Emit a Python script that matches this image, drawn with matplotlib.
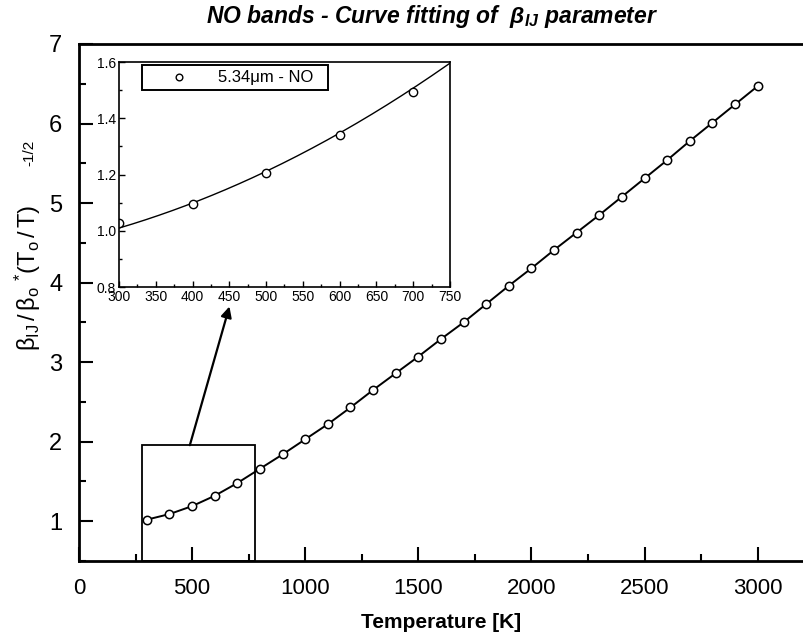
import numpy as np
import matplotlib
matplotlib.use("Agg")
import matplotlib.pyplot as plt
from matplotlib.patches import Rectangle
from matplotlib.ticker import MultipleLocator, FormatStrFormatter

# ---------------------------
# data
# ---------------------------
temps = [300, 400, 500, 600, 700, 800, 900, 1000, 1100, 1200, 1300, 1400,
         1500, 1600, 1700, 1800, 1900, 2000, 2100, 2200, 2300, 2400, 2500,
         2600, 2700, 2800, 2900, 3000]
beta_ratio = [1.02, 1.09, 1.19, 1.32, 1.48, 1.66, 1.84, 2.03, 2.22, 2.43,
              2.65, 2.86, 3.07, 3.29, 3.50, 3.73, 3.96, 4.18, 4.41, 4.63,
              4.85, 5.08, 5.31, 5.54, 5.78, 6.01, 6.24, 6.47]

# inset: measured points and the fitted curve (read at a few temperatures)
inset_temps = [300, 400, 500, 600, 700]
inset_beta = [1.029, 1.094, 1.205, 1.339, 1.495]
fit_temps = [300, 400, 500, 600, 700, 750]
fit_beta = [1.011, 1.094, 1.215, 1.35, 1.50, 1.60]

legend_label = "5.34\u03bcm - NO"

# zoom box + arrow (main axes data coords)
box_x0, box_x1, box_top = 278, 780, 1.956
arrow_tail = (490, 1.956)
arrow_head = (665, 3.70)

plt.rcParams['font.family'] = ['Liberation Sans', 'DejaVu Sans']
plt.rcParams['mathtext.fontset'] = 'custom'
plt.rcParams['mathtext.rm'] = 'Liberation Sans'
plt.rcParams['mathtext.it'] = 'Liberation Sans:italic'
plt.rcParams['mathtext.bf'] = 'Liberation Sans:bold:italic'

W, H = 804, 641
fig = plt.figure(figsize=(W / 100, H / 100), dpi=100)

# ---------------------------
# main axes
# ---------------------------
ax = fig.add_axes([79 / W, 1 - 561 / H, (W - 79) / W, (561 - 44) / H])
ax.plot(temps, beta_ratio, '-', color='black', lw=1.4,
        marker='o', ms=6, mfc='white', mec='black', mew=1.1)
ax.set_xlim(0, 3205)
ax.set_ylim(0.5, 7)
ax.xaxis.set_major_locator(MultipleLocator(500))
ax.xaxis.set_minor_locator(MultipleLocator(250))
ax.yaxis.set_major_locator(MultipleLocator(1))
ax.yaxis.set_minor_locator(MultipleLocator(0.5))
ax.tick_params(which='both', direction='in', top=False, right=False, width=1.5)
ax.tick_params(which='major', length=10)
ax.tick_params(which='minor', length=5)
ax.tick_params(axis='x', labelsize=16, pad=12)
ax.tick_params(axis='y', labelsize=17, pad=12)
for s in ['left', 'bottom', 'top']:
    ax.spines[s].set_linewidth(2.0)
ax.spines['right'].set_visible(False)

ax.set_xlabel("Temperature [K]", fontsize=15, fontweight='bold', labelpad=10)

# rotated y label, split so the exponent sits apart like the original
fig.text(28 / W, 1 - 278 / H,
         r"$\mathrm{\beta_{IJ}\,/\,\beta_{o}\ ^{*}(T_{o}\,/\,T)}$",
         rotation=90, ha='center', va='center', fontsize=17)
fig.text(29 / W, 1 - 153 / H, "-1/2", rotation=90, ha='center', va='center',
         fontsize=11)

fig.text(432 / W, 1 - 16 / H,
         r"NO bands - Curve fitting of  $\mathbf{\beta}_{\mathbf{IJ}}$ parameter",
         ha='center', va='center', fontsize=16.5, fontweight='bold',
         fontstyle='italic')

# zoom box and arrow
ax.add_patch(Rectangle((box_x0, 0.5), box_x1 - box_x0, box_top - 0.5,
                       fill=False, ec='black', lw=1.3, zorder=1))
ax.annotate("", xy=arrow_head, xytext=arrow_tail,
            arrowprops=dict(arrowstyle='-|>', color='black', lw=1.6,
                            mutation_scale=16, shrinkA=0, shrinkB=0))

# ---------------------------
# inset
# ---------------------------
ins = fig.add_axes([119 / W, 1 - 287 / H, (450 - 119) / W, (287 - 62) / H])
coef = np.polyfit(fit_temps, fit_beta, 2)
tt = np.linspace(fit_temps[0], fit_temps[-1], 200)
ins.plot(tt, np.polyval(coef, tt), '-', color='black', lw=1.0)
ins.plot(inset_temps, inset_beta, 'o', ms=6, mfc='white', mec='black',
         mew=1.0, label=legend_label)
ins.set_xlim(300, 750)
ins.set_ylim(0.8, 1.6)
ins.xaxis.set_major_locator(MultipleLocator(50))
ins.xaxis.set_minor_locator(MultipleLocator(25))
ins.yaxis.set_major_locator(MultipleLocator(0.2))
ins.yaxis.set_minor_locator(MultipleLocator(0.1))
ins.yaxis.set_major_formatter(FormatStrFormatter('%.1f'))
ins.tick_params(which='both', direction='in', labelsize=10, width=1.0)
ins.tick_params(which='major', length=4, pad=2)
ins.tick_params(which='minor', length=2)
for s in ins.spines.values():
    s.set_linewidth(1.2)

leg = ins.legend(loc='upper left', bbox_to_anchor=(0.068, 0.985),
                 fontsize=12, handlelength=3.9, handletextpad=0.4,
                 borderpad=0.3, borderaxespad=0, fancybox=False,
                 framealpha=1, edgecolor='black', markerscale=0.8)
leg.get_frame().set_linewidth(1.4)
leg.get_texts()[0].set_text(legend_label + "  ")

fig.savefig("out.png", dpi=100)
